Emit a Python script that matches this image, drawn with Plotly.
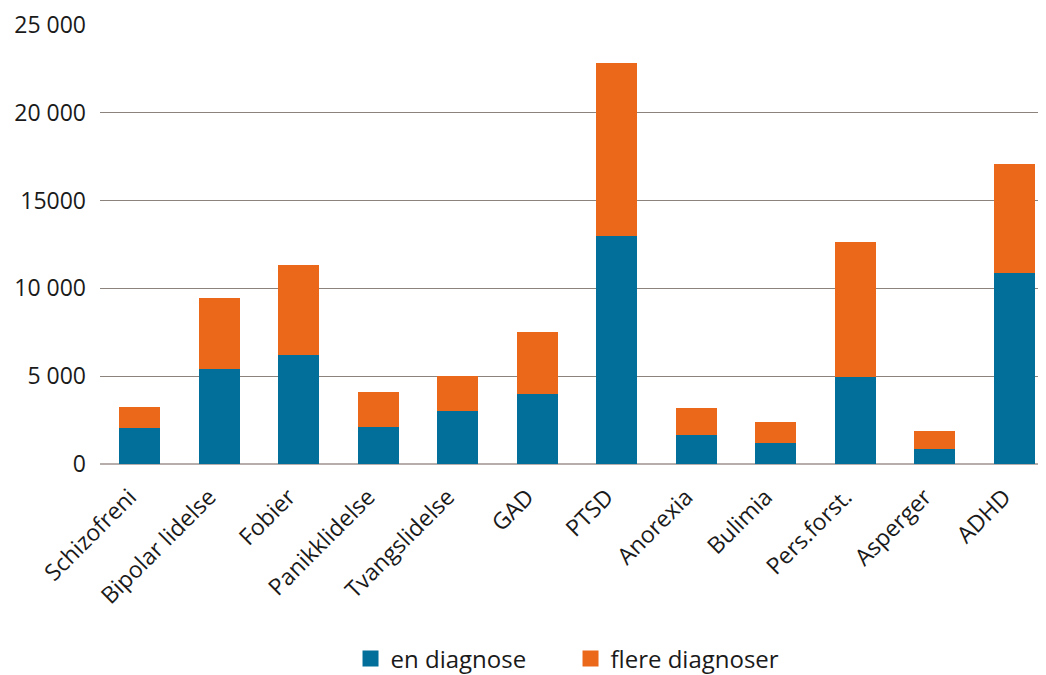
import plotly.graph_objects as go

categories = ["Schizofreni", "Bipolar lidelse", "Fobier", "Panikklidelse", "Tvangslidelse",
              "GAD", "PTSD", "Anorexia", "Bulimia", "Pers.forst.", "Asperger", "ADHD"]
en_diagnose = [2070, 5415, 6210, 2110, 3020, 3990, 13010, 1650, 1200, 4960, 855, 10900]
totals = [3250, 9460, 11340, 4100, 5000, 7520, 22810, 3190, 2390, 12650, 1880, 17090]
flere_diagnoser = [t - e for t, e in zip(totals, en_diagnose)]

series_names = ["en diagnose", "flere diagnoser"]
series_colors = ["#026f9a", "#eb6719"]

y_tickvals = [0, 5000, 10000, 15000, 20000, 25000]
y_ticktext = ["0", "5 000", "10 000", "15000", "20 000", "25 000"]

font = "Open Sans"

fig = go.Figure()
for name, vals, col in zip(series_names, [en_diagnose, flere_diagnoser], series_colors):
    fig.add_trace(go.Bar(x=categories, y=vals, name=name, showlegend=False,
                         marker=dict(color=col, line=dict(width=0))))
    # legend entry with a larger square swatch
    fig.add_trace(go.Scatter(x=[None], y=[None], mode="markers", name=name,
                             marker=dict(symbol="square", size=22, color=col)))

fig.update_layout(
    barmode="stack",
    bargap=0.49,
    width=1046, height=675,
    margin=dict(l=92, r=0, t=17, b=219, autoexpand=False),
    paper_bgcolor="white", plot_bgcolor="white",
    font=dict(family=font, size=23, color="#1a1a1a"),
    legend=dict(orientation="h", x=0.2626, xanchor="left", y=-0.444, yanchor="middle",
                font=dict(size=24), traceorder="normal", itemclick=False,
                entrywidth=175, entrywidthmode="pixels"),
    xaxis=dict(tickangle=-45, showgrid=False, showline=False, ticks="",
               tickfont=dict(size=23), automargin=False,
               ticklabelstandoff=14, ticklabelshift=-10),
    yaxis=dict(range=[0, 25000], tickvals=y_tickvals, ticktext=y_ticktext,
               showgrid=True, gridcolor="#8c837c", gridwidth=1,
               zeroline=True, zerolinecolor="#b5aeaa", zerolinewidth=2,
               ticks="", ticklabelstandoff=13, tickfont=dict(size=23), automargin=False),
)

fig.write_html("out.html")
